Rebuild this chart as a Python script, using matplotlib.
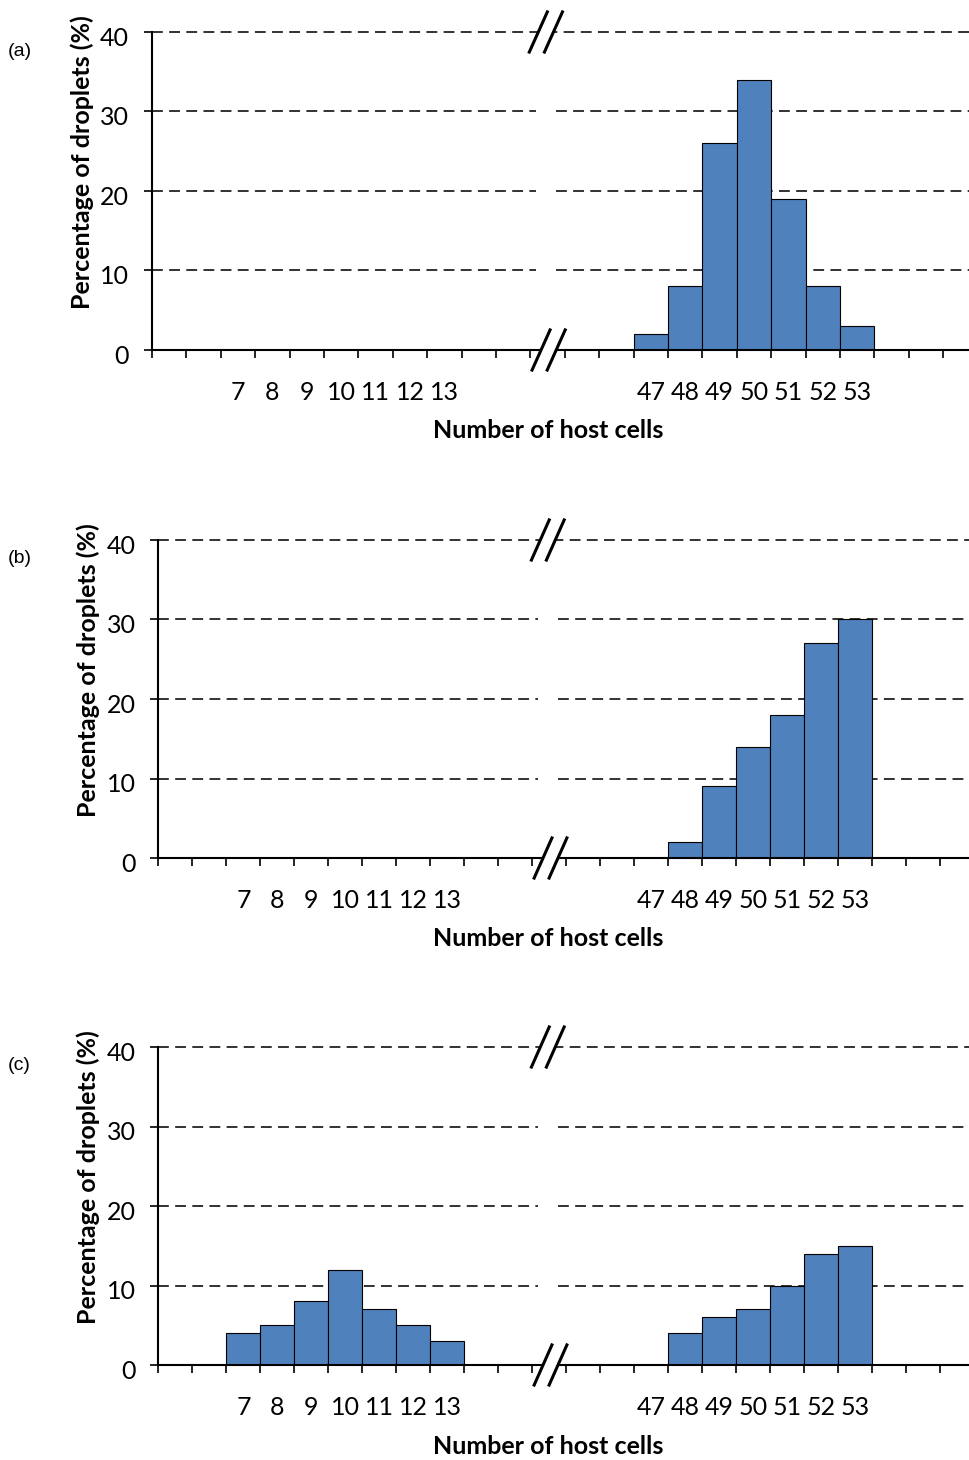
import matplotlib
matplotlib.use("Agg")
import matplotlib.pyplot as plt
import matplotlib.transforms as mtransforms
from matplotlib.patches import Polygon

plt.rcParams['font.family'] = ['Lato', 'DejaVu Sans']

# categories (number of host cells) on each side of the axis break
left_cells = [7, 8, 9, 10, 11, 12, 13]
right_cells = [47, 48, 49, 50, 51, 52, 53]

# percentage of droplets
a_left = [0, 0, 0, 0, 0, 0, 0]
a_right = [2, 8, 26, 34, 19, 8, 3]
b_left = [0, 0, 0, 0, 0, 0, 0]
b_right = [0, 2, 9, 14, 18, 27, 30]
c_left = [4, 5, 8, 12, 7, 5, 3]
c_right = [0, 4, 6, 7, 10, 14, 15]

panel_names = ['(a)', '(b)', '(c)']
yticks = [0, 10, 20, 30, 40]

W, H = 970, 1460
BAR = '#4F81BD'

# pixel layout: axis left, y=0 row, y=40 row, width of one slot
layout = [(152, 350, 32, 34.4), (158.5, 858, 540, 34.0), (158.5, 1365, 1047, 34.0)]
left_start, right_start = 2, 14   # slot where each group starts
brk = 11.45                        # slot position of the break marks

fig = plt.figure(figsize=(W / 100, H / 100), dpi=100)


def break_mark(ax, xc, yc):
    dx, dy, sep = 0.28, 2.7, 0.22
    p = Polygon([(xc - sep - dx, yc - dy), (xc - sep + dx, yc + dy),
                 (xc + sep + dx, yc + dy), (xc + sep - dx, yc - dy)],
                closed=True, facecolor='white', edgecolor='none',
                clip_on=False, zorder=5)
    ax.add_patch(p)
    for s in (-sep, sep):
        ax.plot([xc + s - dx, xc + s + dx], [yc - dy, yc + dy], color='black',
                lw=2.2, clip_on=False, zorder=6, solid_capstyle='butt')


series = [(a_left, a_right), (b_left, b_right), (c_left, c_right)]
for k, (lv, rv) in enumerate(series):
    left, y0, y40, slot = layout[k]
    ax = fig.add_axes([left / W, 1 - y0 / H, (W - left) / W, (y0 - y40) / H])
    nslots = (W - left) / slot
    ax.set_xlim(0, nslots)
    ax.set_ylim(0, 40)

    # gridlines, with a small gap near the break
    for y in [10, 20, 30]:
        ax.hlines(y, 0, brk - 0.3, color='#222222', lw=1.3, linestyles=(0, (6, 3.5)), zorder=1)
        ax.hlines(y, brk + 0.3, nslots, color='#222222', lw=1.3, linestyles=(0, (6, 3.5)), zorder=1)
    ax.hlines(40, 0, nslots, color='#222222', lw=1.3, linestyles=(0, (6, 3.5)), zorder=1, clip_on=False)

    for i, v in enumerate(lv):
        if v > 0:
            ax.bar(left_start + i, v, width=1, align='edge', color=BAR,
                   edgecolor='black', linewidth=0.8, zorder=3)
    for i, v in enumerate(rv):
        if v > 0:
            ax.bar(right_start + i, v, width=1, align='edge', color=BAR,
                   edgecolor='black', linewidth=0.8, zorder=3)

    for sp in ['top', 'right']:
        ax.spines[sp].set_visible(False)
    for sp in ['left', 'bottom']:
        ax.spines[sp].set_linewidth(1.5)
        ax.spines[sp].set_zorder(4)

    ax.set_yticks(yticks)
    ax.set_yticklabels([str(t) for t in yticks])
    ax.tick_params(axis='y', direction='out', length=5.5, width=1.2, pad=11, labelsize=18)
    shift = mtransforms.ScaledTranslation(0, -3 / 72, fig.dpi_scale_trans)
    for lab in ax.get_yticklabels():
        lab.set_transform(lab.get_transform() + shift)

    ax.set_xticks(range(0, int(nslots) + 1))
    ax.set_xticklabels([])
    ax.tick_params(axis='x', which='major', direction='out', length=6, width=1.2)
    centers = [left_start + i + 0.5 for i in range(len(left_cells))] + \
              [right_start + i + 0.5 for i in range(len(right_cells))]
    ax.set_xticks(centers, minor=True)
    ax.set_xticklabels([str(c) for c in left_cells + right_cells], minor=True)
    ax.tick_params(axis='x', which='minor', length=0, pad=22, labelsize=18)

    break_mark(ax, brk + 0.08, 0)
    break_mark(ax, brk, 40)

    h = y0 - y40
    ax.text((548 - left) / (W - left), -(431 - 350) / h, 'Number of host cells',
            transform=ax.transAxes, ha='center', va='center', fontsize=18, fontweight='bold')
    ax.text(-70 / (W - left), (y0 - (162 + (y40 - 32))) / h, 'Percentage of droplets (%)',
            transform=ax.transAxes, ha='center', va='center', rotation=90,
            fontsize=18, fontweight='bold')

    fig.text(8 / W, 1 - (y40 + 19) / H, panel_names[k], ha='left', va='center',
             fontsize=14, family=['Liberation Sans', 'DejaVu Sans'])

fig.savefig('out.png', dpi=100)
